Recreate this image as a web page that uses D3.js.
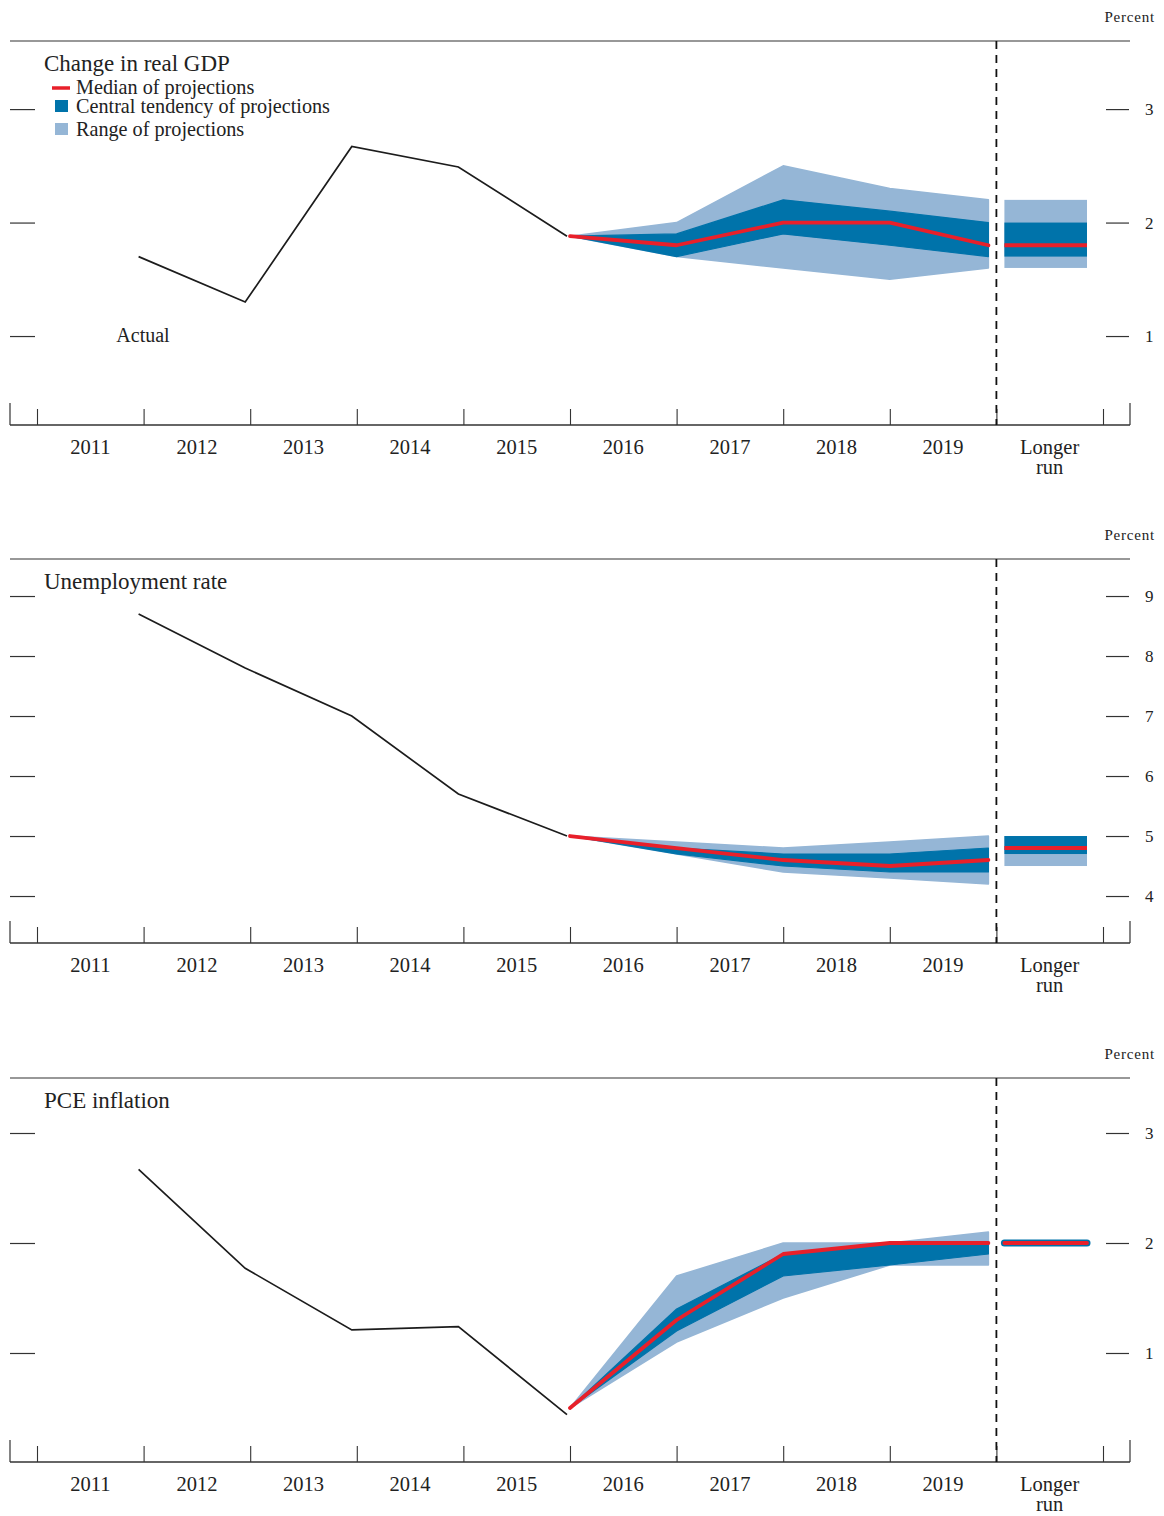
<!DOCTYPE html>
<html>
<head>
<meta charset="utf-8">
<script src="https://cdn.jsdelivr.net/npm/d3@7"></script>
<style>
  html, body { margin: 0; padding: 0; background: #fff; }
  svg { display: block; }
  text { font-family: "Liberation Serif", "Times New Roman", serif; fill: #222; }
</style>
</head>
<body>
<svg id="chart" width="1164" height="1516"></svg>
<script>
// ---------- Data ----------
const yearLabels = ["2011", "2012", "2013", "2014", "2015", "2016", "2017", "2018", "2019"];
const longerRunLabel = ["Longer", "run"];
const actualYears = [2011, 2012, 2013, 2014, 2015];
const projYears = [2015, 2016, 2017, 2018, 2019];

const panelTitles = ["Change in real GDP", "Unemployment rate", "PCE inflation"];
const legendLabels = ["Median of projections", "Central tendency of projections", "Range of projections"];

// Change in real GDP
const gdpActual = [1.7, 1.3, 2.67, 2.49, 1.88];
const gdpMedian = [1.88, 1.8, 2.0, 2.0, 1.8];
const gdpCTLow = [1.88, 1.7, 1.9, 1.8, 1.7];
const gdpCTHigh = [1.88, 1.9, 2.2, 2.1, 2.0];
const gdpRangeLow = [1.88, 1.7, 1.6, 1.5, 1.6];
const gdpRangeHigh = [1.88, 2.0, 2.5, 2.3, 2.2];
const gdpLongerRun = [1.8, 1.7, 2.0, 1.6, 2.2]; // median, CT low, CT high, range low, range high
const gdpTicks = [1, 2, 3];

// Unemployment rate
const unempActual = [8.7, 7.8, 7.0, 5.7, 5.0];
const unempMedian = [5.0, 4.8, 4.6, 4.5, 4.6];
const unempCTLow = [5.0, 4.7, 4.5, 4.4, 4.4];
const unempCTHigh = [5.0, 4.8, 4.7, 4.7, 4.8];
const unempRangeLow = [5.0, 4.7, 4.4, 4.3, 4.2];
const unempRangeHigh = [5.0, 4.9, 4.8, 4.9, 5.0];
const unempLongerRun = [4.8, 4.7, 5.0, 4.5, 5.0];
const unempTicks = [4, 5, 6, 7, 8, 9];

// PCE inflation
const pceActual = [2.67, 1.77, 1.21, 1.24, 0.44];
const pceMedian = [0.5, 1.3, 1.9, 2.0, 2.0];
const pceCTLow = [0.5, 1.2, 1.7, 1.8, 1.9];
const pceCTHigh = [0.5, 1.4, 1.9, 2.0, 2.0];
const pceRangeLow = [0.5, 1.1, 1.5, 1.8, 1.8];
const pceRangeHigh = [0.5, 1.7, 2.0, 2.0, 2.1];
const pceLongerRun = [2.0, 2.0, 2.0, 2.0, 2.0];
const pceTicks = [1, 2, 3];

// ---------- Styles / layout ----------
const COLORS = { range: "#95b6d6", ct: "#0073aa", median: "#e8202a", line: "#1c1c1c", axis: "#333" };
const frameL = 10, frameR = 1130;
const panelTop = 41, panelBottom = 425;
const panelOffsets = [0, 518, 1037];

const svg = d3.select("#chart");

// x scale: value = start of year (2011 -> first year column start, 2021 -> end of longer-run column)
const x = d3.scaleLinear().domain([2011, 2021]).range([37, 1103]);
const gap = 8;
const projX = (yr, i, arr) => (i === arr.length - 1 ? x(yr + 1) - gap : x(yr + 1));

const panels = [
  { title: panelTitles[0], domain: [0.216, 3.6], ticks: gdpTicks, actual: gdpActual,
    median: gdpMedian, ctLo: gdpCTLow, ctHi: gdpCTHigh, rLo: gdpRangeLow, rHi: gdpRangeHigh, lr: gdpLongerRun,
    legend: true, actualLabel: "Actual" },
  { title: panelTitles[1], domain: [3.217, 9.617], ticks: unempTicks, actual: unempActual,
    median: unempMedian, ctLo: unempCTLow, ctHi: unempCTHigh, rLo: unempRangeLow, rHi: unempRangeHigh, lr: unempLongerRun },
  { title: panelTitles[2], domain: [0.009, 3.5], ticks: pceTicks, actual: pceActual,
    median: pceMedian, ctLo: pceCTLow, ctHi: pceCTHigh, rLo: pceRangeLow, rHi: pceRangeHigh, lr: pceLongerRun }
];

panels.forEach((p, pi) => {
  const g = svg.append("g").attr("transform", `translate(0,${panelOffsets[pi]})`);
  const y = d3.scaleLinear().domain(p.domain).range([panelBottom, panelTop]);

  // "Percent"
  g.append("text").attr("x", 1155).attr("y", 22).attr("text-anchor", "end")
    .style("font-size", "15px").style("letter-spacing", "0.8px").text("Percent");

  // top rule
  g.append("line").attr("x1", frameL).attr("x2", frameR).attr("y1", panelTop).attr("y2", panelTop)
    .attr("stroke", COLORS.axis).attr("stroke-width", 1.2);

  // y ticks left (no labels)
  const yl = g.append("g").attr("transform", `translate(${frameL},0)`)
    .call(d3.axisRight(y).tickValues(p.ticks).tickSize(25).tickFormat(""));
  yl.select(".domain").remove();
  yl.selectAll(".tick line").attr("stroke", COLORS.axis).attr("stroke-width", 1.2);

  // y ticks right with labels
  const yr = g.append("g").attr("transform", `translate(1106,0)`)
    .call(d3.axisRight(y).tickValues(p.ticks).tickSize(23).tickPadding(16).tickFormat(d3.format("d")));
  yr.select(".domain").remove();
  yr.selectAll(".tick line").attr("stroke", COLORS.axis).attr("stroke-width", 1.2);
  yr.selectAll(".tick text").attr("font-family", "Liberation Serif").attr("font-size", 17).attr("fill", "#222");

  // bottom axis
  const xa = g.append("g").attr("transform", `translate(0,${panelBottom})`)
    .call(d3.axisTop(x).tickValues(d3.range(2011, 2022)).tickSize(16).tickFormat(""));
  xa.select(".domain").remove();
  xa.selectAll(".tick line").attr("stroke", COLORS.axis).attr("stroke-width", 1.1);
  g.append("line").attr("x1", frameL).attr("x2", frameR).attr("y1", panelBottom).attr("y2", panelBottom)
    .attr("stroke", COLORS.axis).attr("stroke-width", 1.4);
  [frameL, frameR].forEach(ex => {
    g.append("line").attr("x1", ex).attr("x2", ex).attr("y1", panelBottom - 22).attr("y2", panelBottom)
      .attr("stroke", COLORS.axis).attr("stroke-width", 1.2);
  });

  // year labels
  g.selectAll("text.year").data(yearLabels).join("text").attr("class", "year")
    .attr("x", (d, i) => x(2011 + i + 0.5)).attr("y", 454).attr("text-anchor", "middle")
    .style("font-size", "20.5px").text(d => d);
  g.selectAll("text.lr").data(longerRunLabel).join("text").attr("class", "lr")
    .attr("x", x(2020.5)).attr("y", (d, i) => 454 + i * 20).attr("text-anchor", "middle")
    .style("font-size", "20.5px").text(d => d);

  // dashed separator
  g.append("line").attr("x1", x(2020)).attr("x2", x(2020)).attr("y1", panelTop).attr("y2", panelBottom)
    .attr("stroke", "#111").attr("stroke-width", 1.8).attr("stroke-dasharray", "8,6");

  // projection bands
  const pts = projYears.map((yrv, i, arr) => ({ x: projX(yrv, i, arr), i }));
  const rangeArea = d3.area().x(d => d.x).y0(d => y(p.rLo[d.i])).y1(d => y(p.rHi[d.i]));
  const ctArea = d3.area().x(d => d.x).y0(d => y(p.ctLo[d.i])).y1(d => y(p.ctHi[d.i]));
  g.append("path").attr("d", rangeArea(pts)).attr("fill", COLORS.range)
    .attr("stroke", COLORS.range).attr("stroke-width", 1.5).attr("stroke-linejoin", "round");
  g.append("path").attr("d", ctArea(pts)).attr("fill", COLORS.ct)
    .attr("stroke", COLORS.ct).attr("stroke-width", 1.2).attr("stroke-linejoin", "round");

  // longer run boxes
  const lrX0 = x(2020) + gap, lrX1 = x(2021) - 16;
  const [lrMed, lrCtLo, lrCtHi, lrRLo, lrRHi] = p.lr;
  const rH = y(lrRLo) - y(lrRHi);
  if (rH > 1) {
    g.append("rect").attr("x", lrX0).attr("width", lrX1 - lrX0)
      .attr("y", y(lrRHi)).attr("height", rH).attr("fill", COLORS.range);
  }
  const ctH = y(lrCtLo) - y(lrCtHi);
  if (ctH > 1) {
    g.append("rect").attr("x", lrX0).attr("width", lrX1 - lrX0)
      .attr("y", y(lrCtHi)).attr("height", ctH).attr("fill", COLORS.ct);
  } else {
    g.append("line").attr("x1", lrX0).attr("x2", lrX1).attr("y1", y(lrCtHi)).attr("y2", y(lrCtHi))
      .attr("stroke", COLORS.ct).attr("stroke-width", 7).attr("stroke-linecap", "round");
  }

  // median lines
  const line = d3.line().x(d => d.x).y(d => d.y);
  g.append("path").attr("d", line(pts.map(d => ({ x: d.x, y: y(p.median[d.i]) }))))
    .attr("fill", "none").attr("stroke", COLORS.median).attr("stroke-width", 3.8)
    .attr("stroke-linejoin", "round").attr("stroke-linecap", "round");
  g.append("line").attr("x1", lrX0).attr("x2", lrX1).attr("y1", y(lrMed)).attr("y2", y(lrMed))
    .attr("stroke", COLORS.median).attr("stroke-width", 3.8).attr("stroke-linecap", ctH > 1 ? "butt" : "round");

  // actual line
  g.append("path").attr("d", line(actualYears.map((yrv, i) => ({ x: x(yrv + 1) - (i === actualYears.length - 1 ? 3 : 5), y: y(p.actual[i]) }))))
    .attr("fill", "none").attr("stroke", COLORS.line).attr("stroke-width", 1.7);

  // title
  g.append("text").attr("x", 44).attr("y", 71).style("font-size", "23px").text(p.title);

  if (p.actualLabel) {
    g.append("text").attr("x", 143).attr("y", 342).attr("text-anchor", "middle")
      .style("font-size", "20px").text(p.actualLabel);
  }

  if (p.legend) {
    const lg = g.append("g");
    lg.append("line").attr("x1", 52).attr("x2", 70).attr("y1", 88).attr("y2", 88)
      .attr("stroke", COLORS.median).attr("stroke-width", 3.5);
    lg.append("rect").attr("x", 55).attr("y", 100).attr("width", 13).attr("height", 12).attr("fill", COLORS.ct);
    lg.append("rect").attr("x", 55).attr("y", 123).attr("width", 13).attr("height", 12).attr("fill", COLORS.range);
    lg.selectAll("text.leg").data(legendLabels).join("text").attr("class", "leg")
      .attr("x", 76).attr("y", (d, i) => [94, 113, 136][i]).style("font-size", "20.2px").text(d => d);
  }
});
</script>
</body>
</html>
